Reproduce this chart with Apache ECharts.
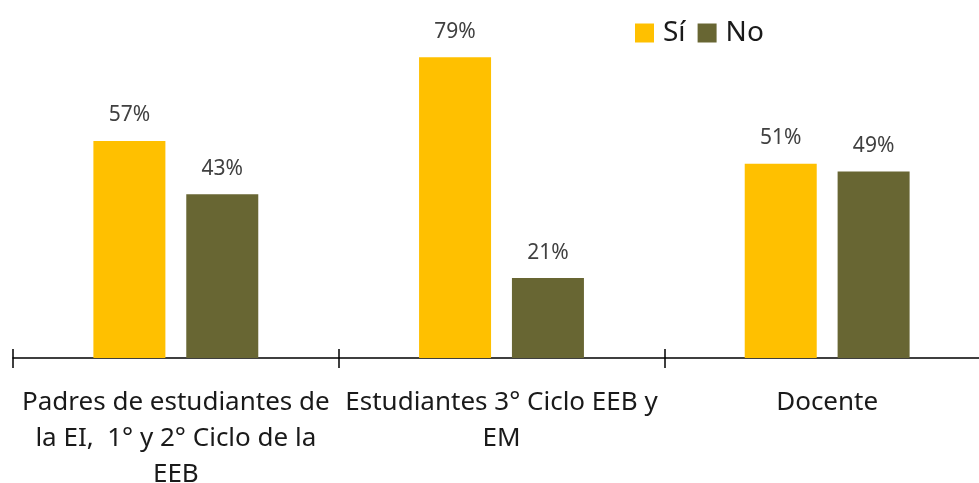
<!DOCTYPE html>
<html>
<head>
<meta charset="utf-8">
<script src="https://cdn.jsdelivr.net/npm/echarts@6/dist/echarts.min.js"></script>
<style>
    html, body { margin: 0; padding: 0; background: #fff; }
    #container { width: 979px; height: 483px; }
</style>
</head>
<body>
<div id="container"></div>
<script>
    // datos
    var categories = ['Padres de estudiantes de\nla EI,  1° y 2° Ciclo de la\nEEB', 'Estudiantes 3° Ciclo EEB y\nEM', 'Docente'];
    var serieSi = [57, 79, 51];
    var serieNo = [43, 21, 49];
    var seriesNames = ['Sí', 'No'];

    var myChart = echarts.init(document.getElementById('container'));
    var labelStyle = {
        show: true,
        position: 'top',
        distance: 15,
        formatter: '{c}%',
        fontFamily: 'Noto Sans',
        fontSize: 21,
        color: '#404040'
    };
    var option = {
        animation: false,
        legend: {
            data: seriesNames,
            top: 14,
            left: 630,
            icon: 'rect',
            itemWidth: 19,
            itemHeight: 19,
            itemGap: 12,
            textStyle: { fontFamily: 'Noto Sans', fontSize: 28, color: '#1a1a1a', padding: [0, 0, 0, 4] }
        },
        grid: [{
            left: 13,
            right: -11,
            top: 0,
            bottom: 125,
            outerBoundsMode: 'none',
            containLabel: false
        }, {
            // rejilla auxiliar: mitad superior de las marcas del eje
            left: 13,
            right: -11,
            top: 0,
            bottom: 134,
            outerBoundsMode: 'none',
            containLabel: false
        }],
        xAxis: [{
            type: 'category',
            gridIndex: 0,
            data: categories,
            axisLine: { lineStyle: { color: '#000', width: 1.5 } },
            axisTick: { show: true, length: 10, lineStyle: { color: '#000', width: 1.5 } },
            axisLabel: {
                interval: 0,
                hideOverlap: false,
                margin: 27,
                fontFamily: 'Noto Sans',
                fontSize: 26,
                lineHeight: 36,
                color: '#1a1a1a'
            }
        }, {
            type: 'category',
            gridIndex: 1,
            data: categories,
            axisLine: { show: true, onZero: false, lineStyle: { color: '#000', opacity: 0 } },
            axisTick: { show: true, length: 9, lineStyle: { color: '#000', width: 1.5, opacity: 1 } },
            axisLabel: { show: false }
        }],
        yAxis: [{
            type: 'value',
            gridIndex: 0,
            min: 0,
            max: 94,
            show: false
        }, {
            type: 'value',
            gridIndex: 1,
            min: 0,
            max: 100,
            show: false
        }],
        series: [{
            name: seriesNames[0],
            type: 'bar',
            data: serieSi,
            barWidth: 72,
            barGap: '29%',
            itemStyle: { color: '#FFC000' },
            label: labelStyle
        }, {
            name: seriesNames[1],
            type: 'bar',
            data: serieNo,
            barWidth: 72,
            itemStyle: { color: '#686633' },
            label: labelStyle
        }, {
            name: 'marcas',
            type: 'line',
            xAxisIndex: 1,
            yAxisIndex: 1,
            data: [],
            silent: true
        }]
    };
    myChart.setOption(option);
</script>
</body>
</html>
